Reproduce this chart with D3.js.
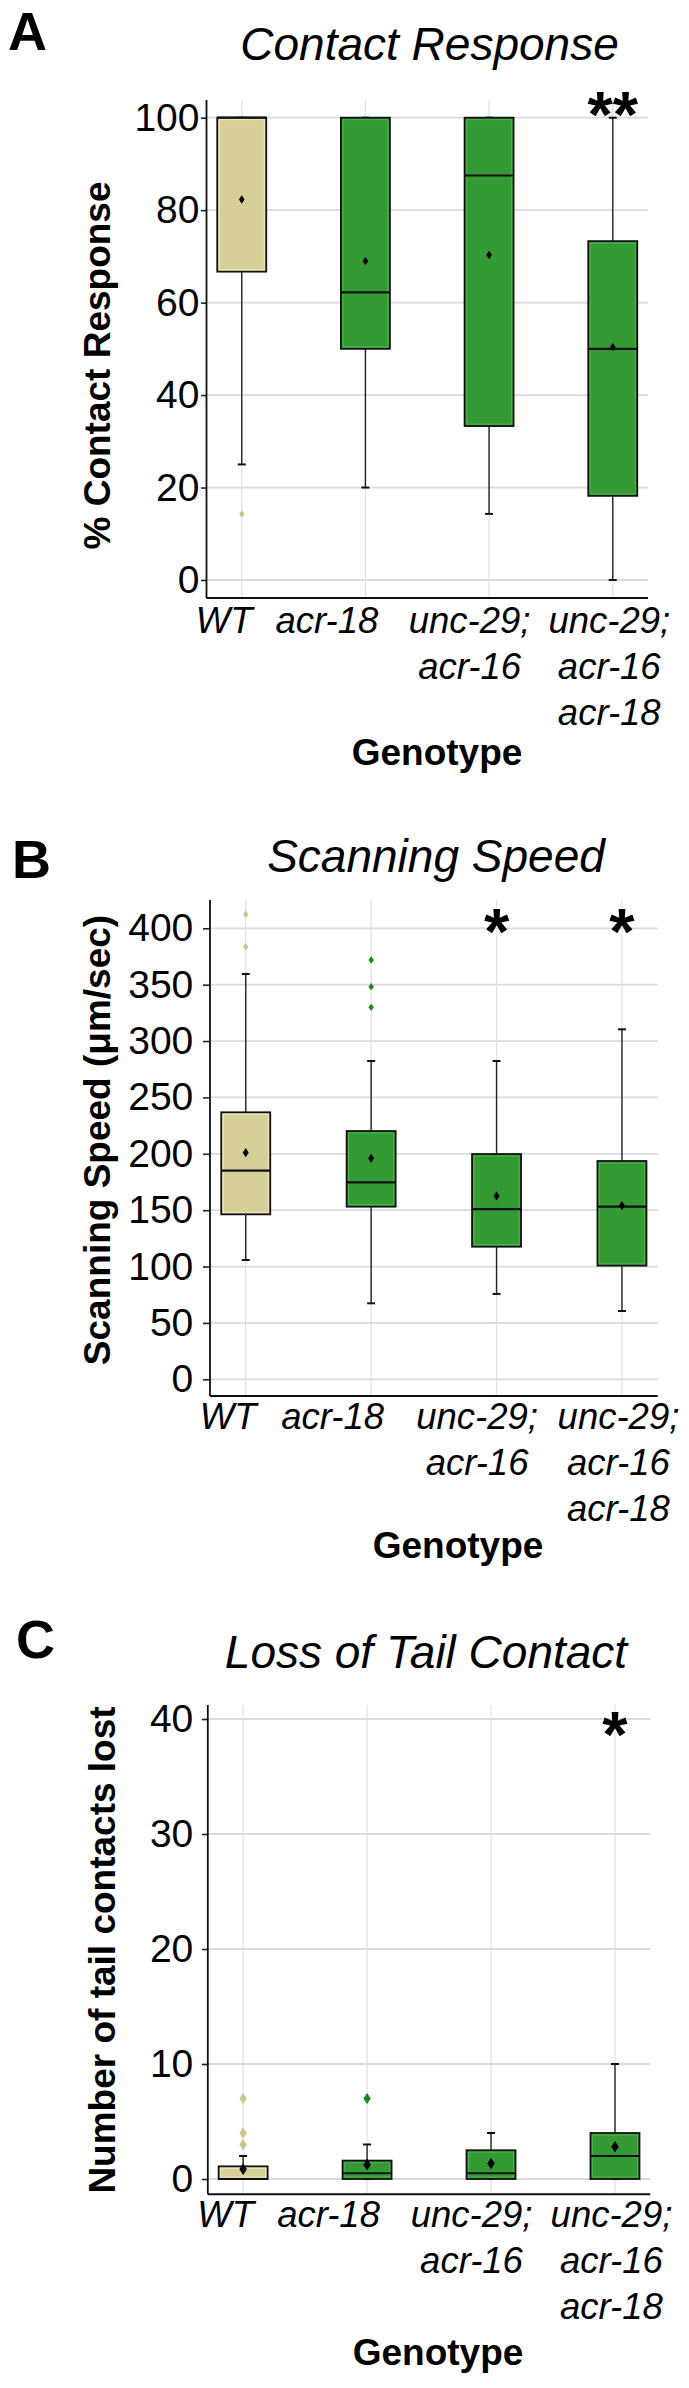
<!DOCTYPE html>
<html><head><meta charset="utf-8">
<script src="https://cdn.jsdelivr.net/npm/d3@7"></script>
<style>body{margin:0;background:#fff}svg{display:block}</style>
</head><body>
<script>
// ---------- data ----------
const categories = ["WT", "acr-18", "unc-29; acr-16", "unc-29; acr-16 acr-18"];
const categoryLines = [["WT"], ["acr-18"], ["unc-29;", "acr-16"], ["unc-29;", "acr-16", "acr-18"]];
const categoryGroup = ["wt", "mutant", "mutant", "mutant"];

// Panel A: Contact Response (%)
const contactTicks = [0, 20, 40, 60, 80, 100];
const contactWhiskerLow = [25, 20, 14.3, 0];
const contactQ1 = [66.7, 50, 33.3, 18.2];
const contactMedian = [100, 62.2, 87.5, 50];
const contactQ3 = [100, 100, 100, 73.3];
const contactWhiskerHigh = [100, 100, 100, 100];
const contactMean = [82.3, 69.0, 70.3, 50.4];
const contactOutliers = [[14.3], [], [], []];
const contactSignif = ["", "", "", "**"];

// Panel B: Scanning Speed (um/sec)
const speedTicks = [0, 50, 100, 150, 200, 250, 300, 350, 400];
const speedWhiskerLow = [105.8, 67.4, 75.7, 60.6];
const speedQ1 = [146.3, 153.1, 117.6, 100.8];
const speedMedian = [185, 174.7, 151, 153.1];
const speedQ3 = [236.8, 220.2, 199.8, 193.6];
const speedWhiskerHigh = [359.5, 282.3, 282.3, 310.4];
const speedMean = [201, 196, 162.6, 154];
const speedOutliers = [[383.7, 412.4], [329.9, 348.2, 371.9], [], []];
const speedSignif = ["", "", "*", "*"];

// Panel C: Loss of Tail Contact (count)
const tailTicks = [0, 10, 20, 30, 40];
const tailWhiskerLow = [0, 0, 0, 0];
const tailQ1 = [0, 0, 0, 0];
const tailMedian = [0, 0.5, 0.5, 2];
const tailQ3 = [1.1, 1.6, 2.5, 4];
const tailWhiskerHigh = [2, 3, 4, 10];
const tailMean = [0.85, 1.25, 1.35, 2.8];
const tailOutliers = [[3, 4, 7], [7], [], []];
const tailSignif = ["", "", "", "*"];

// ---------- style / layout ----------
const FONT = "'Liberation Sans', Arial, Helvetica, sans-serif";
const fillColor = {wt: "#D6CF98", mutant: "#349A34"};
const innerColor = {wt: "#EEE8BE", mutant: "#4DB04D"};
const outlierColor = {wt: "#CDC48A", mutant: "#1A8A1A"};
const labelNudge = [-18, -39, -20, -4];
const boxWidth = 49;

const panels = [
  {letter: "A", letterPos: [8, 50], title: "Contact Response", titlePos: [429.5, 60],
   yTitle: "% Contact Response", yTitlePos: [96.5, 365.5],
   left: 206.5, right: 648, top: 100, bottom: 598, ticks: contactTicks, yRange: [580, 117.7],
   tickLen: 5.5, tickPad: 1.5, xLabelDy: 35.3, genotypePos: [437, 765], starTop: 90,
   mk: [2.8, 4.2], outMk: [2.6, 3.8],
   low: contactWhiskerLow, q1: contactQ1, med: contactMedian, q3: contactQ3,
   high: contactWhiskerHigh, mean: contactMean, out: contactOutliers, sig: contactSignif},
  {letter: "B", letterPos: [12, 878], title: "Scanning Speed", titlePos: [436, 872],
   yTitle: "Scanning Speed (\u03BCm/sec)", yTitlePos: [97, 1140],
   left: 210, right: 657.7, top: 900, bottom: 1396, ticks: speedTicks, yRange: [1379.3, 928.3],
   tickLen: 7, tickPad: 9.7, xLabelDy: 33.3, genotypePos: [458, 1558.3], starTop: 907,
   mk: [3, 4.6], outMk: [2.7, 3.7],
   low: speedWhiskerLow, q1: speedQ1, med: speedMedian, q3: speedQ3,
   high: speedWhiskerHigh, mean: speedMean, out: speedOutliers, sig: speedSignif},
  {letter: "C", letterPos: [16, 1658], title: "Loss of Tail Contact", titlePos: [426, 1668],
   yTitle: "Number of tail contacts lost", yTitlePos: [102, 1950],
   left: 207.8, right: 650.3, top: 1705, bottom: 2194.3, ticks: tailTicks, yRange: [2179, 1719],
   tickLen: 6, tickPad: 8.5, xLabelDy: 32.4, genotypePos: [438, 2365], starTop: 1710,
   mk: [3.8, 5.8], outMk: [3.7, 5.4],
   low: tailWhiskerLow, q1: tailQ1, med: tailMedian, q3: tailQ3,
   high: tailWhiskerHigh, mean: tailMean, out: tailOutliers, sig: tailSignif}
];

const svg = d3.select("body").append("svg").attr("width", 689).attr("height", 2388)
  .style("font-family", FONT);
svg.append("rect").attr("width", 689).attr("height", 2388).attr("fill", "#fff");

const diamond = (rx, ry) => `M0,${-ry}L${rx},0L0,${ry}L${-rx},0Z`;

function drawPanel(P) {
  const x = d3.scalePoint().domain(categories).range([P.left, P.right]).padding(0.285);
  const y = d3.scaleLinear().domain([P.ticks[0], P.ticks[P.ticks.length - 1]]).range(P.yRange);
  const g = svg.append("g");

  // grid
  g.append("g").selectAll("line").data(P.ticks).join("line")
    .attr("x1", P.left).attr("x2", P.right).attr("y1", d => y(d)).attr("y2", d => y(d))
    .attr("stroke", "#dadada").attr("stroke-width", 1.8);
  g.append("g").selectAll("line").data(categories).join("line")
    .attr("x1", d => x(d)).attr("x2", d => x(d)).attr("y1", P.top).attr("y2", P.bottom)
    .attr("stroke", "#e2e2e2").attr("stroke-width", 1.3);

  // y axis
  const ya = g.append("g").attr("transform", `translate(${P.left},0)`)
    .call(d3.axisLeft(y).tickValues(P.ticks).tickSize(P.tickLen).tickPadding(P.tickPad));
  ya.select(".domain").remove();
  ya.selectAll(".tick line").attr("stroke", "#222").attr("stroke-width", 1.6);
  ya.selectAll(".tick text").attr("font-size", 39).attr("fill", "#000").attr("font-family", FONT);
  g.append("line").attr("x1", P.left).attr("x2", P.left).attr("y1", P.top).attr("y2", P.bottom)
    .attr("stroke", "#111").attr("stroke-width", 1.8);

  // x axis
  const xa = g.append("g").attr("transform", `translate(0,${P.bottom})`)
    .call(d3.axisBottom(x).tickSize(0).tickFormat(""));
  xa.select(".domain").remove();
  xa.selectAll(".tick text").each(function (d, i) {
    const t = d3.select(this).attr("dy", null).attr("y", P.xLabelDy).attr("x", labelNudge[i])
      .attr("font-size", 36.5).attr("font-style", "italic").attr("fill", "#000")
      .attr("font-family", FONT).attr("text-anchor", "middle");
    categoryLines[i].forEach((s, k) => {
      t.append("tspan").attr("x", labelNudge[i]).attr("y", P.xLabelDy + k * 46).text(s);
    });
  });
  g.append("line").attr("x1", P.left).attr("x2", P.right).attr("y1", P.bottom).attr("y2", P.bottom)
    .attr("stroke", "#111").attr("stroke-width", 1.9);

  // boxes
  categories.forEach((c, i) => {
    const cx = x(c), grp = categoryGroup[i];
    const bg = g.append("g");
    bg.append("line").attr("x1", cx).attr("x2", cx).attr("y1", y(P.low[i])).attr("y2", y(P.high[i]))
      .attr("stroke", "#222").attr("stroke-width", 1.4);
    [P.low[i], P.high[i]].forEach(v => {
      bg.append("line").attr("x1", cx - 4).attr("x2", cx + 4).attr("y1", y(v)).attr("y2", y(v))
        .attr("stroke", "#111").attr("stroke-width", 2);
    });
    const top = y(P.q3[i]), bot = y(P.q1[i]);
    bg.append("rect").attr("x", cx - boxWidth / 2).attr("y", top).attr("width", boxWidth)
      .attr("height", Math.max(0, bot - top)).attr("fill", fillColor[grp])
      .attr("stroke", "#111").attr("stroke-width", 1.8);
    if (bot - top > 5) {
      bg.append("rect").attr("x", cx - boxWidth / 2 + 2).attr("y", top + 2).attr("width", boxWidth - 4)
        .attr("height", bot - top - 4).attr("fill", "none")
        .attr("stroke", innerColor[grp]).attr("stroke-width", 1.1);
    }
    bg.append("line").attr("x1", cx - boxWidth / 2).attr("x2", cx + boxWidth / 2)
      .attr("y1", y(P.med[i])).attr("y2", y(P.med[i])).attr("stroke", "#111").attr("stroke-width", 2.2);
    bg.selectAll(".out").data(P.out[i]).join("path").attr("class", "out")
      .attr("transform", v => `translate(${cx},${y(v)})`)
      .attr("d", diamond(P.outMk[0], P.outMk[1])).attr("fill", outlierColor[grp]);
    bg.append("path").attr("transform", `translate(${cx},${y(P.mean[i])})`)
      .attr("d", diamond(P.mk[0], P.mk[1])).attr("fill", "#000");
    if (P.sig[i]) {
      g.append("text").attr("x", cx).attr("y", P.starTop + 47).attr("text-anchor", "middle")
        .attr("font-size", 65).attr("font-weight", "bold").text(P.sig[i]);
    }
  });

  // texts
  svg.append("text").attr("x", P.letterPos[0]).attr("y", P.letterPos[1])
    .attr("font-size", 54).attr("font-weight", "bold").text(P.letter);
  svg.append("text").attr("x", P.titlePos[0]).attr("y", P.titlePos[1]).attr("text-anchor", "middle")
    .attr("font-size", 46).attr("font-style", "italic").text(P.title);
  svg.append("text").attr("transform", `translate(${P.yTitlePos[0]},${P.yTitlePos[1]}) rotate(-90)`)
    .attr("text-anchor", "middle").attr("dy", "0.36em")
    .attr("font-size", 37).attr("font-weight", "bold").text(P.yTitle);
  svg.append("text").attr("x", P.genotypePos[0]).attr("y", P.genotypePos[1]).attr("text-anchor", "middle")
    .attr("font-size", 37).attr("font-weight", "bold").text("Genotype");
}

panels.forEach(drawPanel);
</script>
</body></html>
